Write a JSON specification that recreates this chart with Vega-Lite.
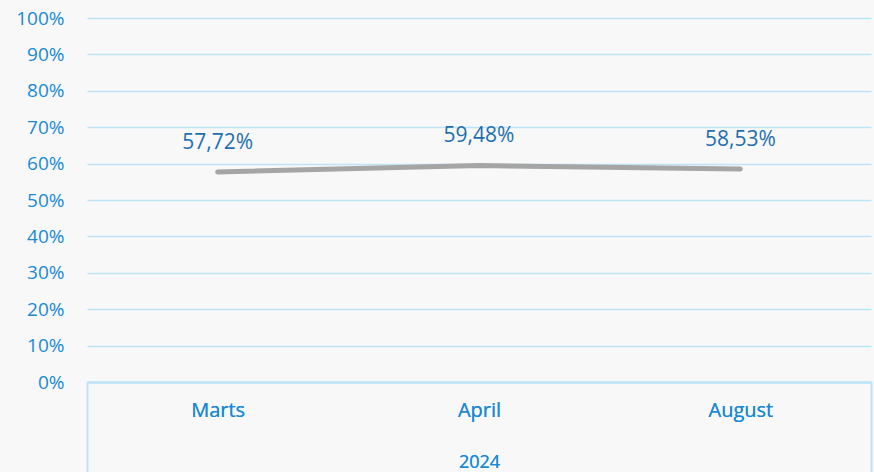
{
  "$schema": "https://vega.github.io/schema/vega-lite/v6.json",
  "width": 784,
  "height": 364,
  "autosize": {"type": "none"},
  "padding": {"left": 87, "top": 18, "right": 3, "bottom": 90},
  "background": "#f8f8f8",
  "config": {
    "locale": {"number": {"decimal": ",", "thousands": ".", "grouping": [3], "currency": ["", " €"]}},
    "view": {"stroke": null},
    "font": "Open Sans"
  },
  "data": {"values": [
    {"month": "Marts", "value": 0.5772},
    {"month": "April", "value": 0.5948},
    {"month": "August", "value": 0.5853}
  ]},
  "encoding": {
    "x": {
      "field": "month", "type": "nominal", "sort": null,
      "scale": {"paddingInner": 0, "paddingOuter": 0},
      "axis": {
        "orient": "bottom",
        "title": "2024", "titleFont": "Open Sans", "titleFontSize": 18, "titleFontWeight": "normal",
        "titleColor": "#1a8ad4", "titleBaseline": "middle", "titleY": 80,
        "labelAngle": 0, "labelFontSize": 20, "labelFontWeight": "normal", "labelColor": "#1a8ad4", "labelPadding": 18,
        "ticks": false, "domain": true, "domainColor": "#bde3f7", "domainWidth": 2,
        "grid": false
      }
    },
    "y": {
      "field": "value", "type": "quantitative",
      "scale": {"domain": [0, 1], "nice": false},
      "axis": {
        "title": null, "format": ".0%", "values": [0, 0.1, 0.2, 0.3, 0.4, 0.5, 0.6, 0.7, 0.8, 0.9, 1],
        "labelFontSize": 19, "labelFontWeight": "normal", "labelColor": "#1a8ad4", "labelPadding": 23,
        "domain": false, "ticks": false,
        "grid": true, "gridColor": "#bde3f7", "gridWidth": 1.5
      }
    }
  },
  "layer": [
    {
      "mark": {"type": "line", "stroke": "#a5a5a5", "strokeWidth": 5, "strokeCap": "round"}
    },
    {
      "mark": {"type": "text", "dy": -29, "baseline": "middle", "fontSize": 21, "fontWeight": "normal", "color": "#1f6fae"},
      "encoding": {"text": {"field": "value", "type": "quantitative", "format": ".2%"}}
    },
    {
      "data": {"values": [{"edge": 0}, {"edge": 1}]},
      "mark": {"type": "point", "opacity": 0},
      "encoding": {
        "x": {
          "field": "edge", "type": "quantitative",
          "scale": {"domain": [0, 1], "nice": false},
          "axis": {
            "orient": "bottom",
            "title": null, "values": [0, 1], "labels": false, "domain": false, "grid": false,
            "ticks": true, "tickSize": 90, "tickColor": "#bde3f7", "tickWidth": 2
          }
        },
        "y": {"datum": 0}
      }
    }
  ],
  "resolve": {"scale": {"x": "independent"}}
}
